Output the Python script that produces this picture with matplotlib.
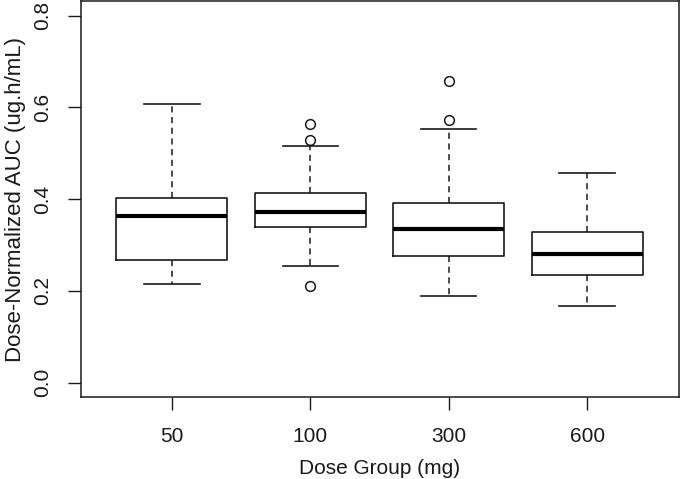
import matplotlib
matplotlib.use("Agg")
import matplotlib.pyplot as plt

plt.rcParams["font.family"] = ["Liberation Sans", "DejaVu Sans"]

# values
groups = ["50", "100", "300", "600"]
medians = [0.363, 0.373, 0.335, 0.280]
q1 = [0.267, 0.339, 0.276, 0.235]
q3 = [0.403, 0.413, 0.391, 0.329]
whislo = [0.214, 0.254, 0.188, 0.166]
whishi = [0.607, 0.516, 0.553, 0.458]
fliers = [[], [0.563, 0.529, 0.211], [0.658, 0.572], []]

stats = []
for i, g in enumerate(groups):
    stats.append({
        "label": g,
        "med": medians[i],
        "q1": q1[i],
        "q3": q3[i],
        "whislo": whislo[i],
        "whishi": whishi[i],
        "fliers": fliers[i],
    })

fig = plt.figure(figsize=(6.8, 4.79), dpi=100)
ax = fig.add_axes([80.5 / 680, (479 - 397.3) / 479, 598 / 680, 396.3 / 479])

ink = "#1a1a1a"
ax.bxp(
    stats,
    positions=range(1, len(groups) + 1),
    widths=0.8,
    capwidths=0.4,
    boxprops=dict(color=ink, linewidth=1.2),
    medianprops=dict(color="black", linewidth=3.0, solid_capstyle="butt"),
    whiskerprops=dict(color=ink, linewidth=1.1, linestyle=(0, (4, 3))),
    capprops=dict(color=ink, linewidth=1.2),
    flierprops=dict(marker="o", markersize=7, markerfacecolor="none",
                    markeredgecolor=ink, markeredgewidth=1.1),
)

ax.set_xlim(0.5 - 0.16, len(groups) + 0.5 + 0.16)
ax.set_ylim(-0.032, 0.832)
ax.set_yticks([0.0, 0.2, 0.4, 0.6, 0.8])
ax.set_yticklabels(["0.0", "0.2", "0.4", "0.6", "0.8"], rotation=90, va="center")
ax.set_xticks(range(1, len(groups) + 1))
ax.set_xticklabels(groups)

ax.tick_params(axis="both", direction="out", length=9.4, width=1.0,
               color=ink, labelsize=15, labelcolor=ink)
ax.tick_params(axis="x", pad=12)
ax.tick_params(axis="y", pad=11)
for s in ax.spines.values():
    s.set_linewidth(1.1)
    s.set_color(ink)

ax.set_xlabel("Dose Group (mg)", fontsize=15, color=ink, labelpad=9)
ax.set_ylabel("Dose-Normalized AUC (ug.h/mL)", fontsize=16, color=ink, labelpad=5)

fig.savefig("out.png", dpi=100)
